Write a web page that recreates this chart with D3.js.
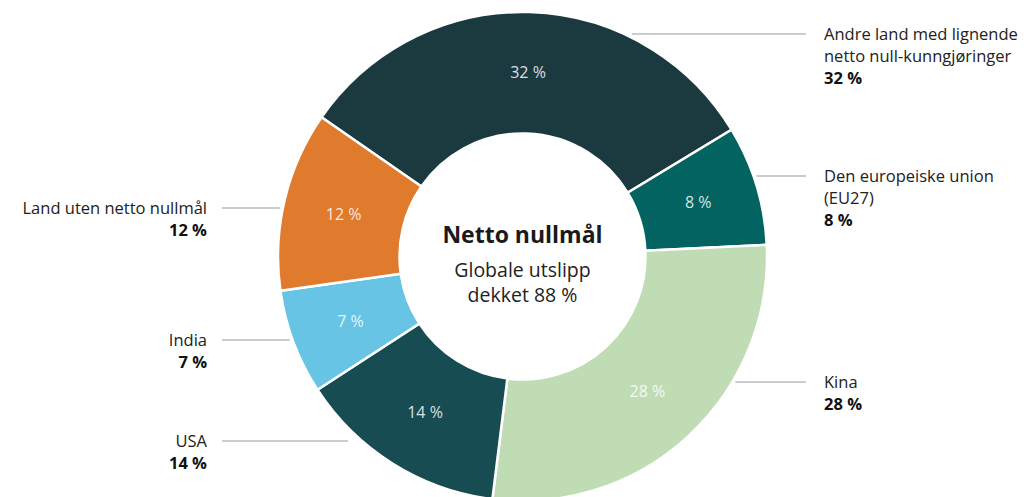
<!DOCTYPE html>
<html>
<head>
<meta charset="utf-8">
<script src="https://cdn.jsdelivr.net/npm/d3@7"></script>
<style>
  body { margin: 0; background: #fff; }
  svg text { font-family: "Open Sans", "Noto Sans", sans-serif; }
</style>
</head>
<body>
<div id="chart"></div>
<script>
const width = 1024, height = 497;
const cx = 522.5, cy = 256.5, outerR = 244.5, innerR = 123;

// data
const names = [
    ["Andre land med lignende", "netto null-kunngjøringer"],
    ["Den europeiske union", "(EU27)"],
    ["Kina"],
    ["USA"],
    ["India"],
    ["Land uten netto nullmål"]
];
const shares = [32, 8, 28, 14, 7, 12];
const colors = ["#1b3a40", "#036360", "#bfdcb5", "#174d52", "#68c4e5", "#e07a2d"];
const centerTitle = "Netto nullmål";
const centerLines = ["Globale utslipp", "dekket 88 %"];

// label layout: side, y of leader line, gap to the ring
const labelSide = ["right", "right", "right", "left", "left", "left"];
const labelLineY = [34, 176, 382, 441, 340, 208];
const labelGap = [8, 3, 3, 14, 3, 3];

const svg = d3.select("#chart")
    .append("svg")
    .attr("width", width)
    .attr("height", height);

const g = svg.append("g")
    .attr("transform", "translate(" + cx + "," + cy + ")");

const startAngle = -55.3 * Math.PI / 180;
const pie = d3.pie()
    .sort(null)
    .value(d => d)
    .startAngle(startAngle)
    .endAngle(startAngle + 2 * Math.PI);

const arc = d3.arc()
    .innerRadius(innerR)
    .outerRadius(outerR);

const arcs = pie(shares);

g.selectAll("path.slice")
    .data(arcs)
    .enter().append("path")
    .attr("class", "slice")
    .attr("d", arc)
    .attr("fill", (d, i) => colors[i])
    .attr("stroke", "#fff")
    .attr("stroke-width", 2.5);

g.selectAll("text.inside")
    .data(arcs)
    .enter().append("text")
    .attr("class", "inside")
    .attr("transform", d => "translate(" + arc.centroid(d) + ")")
    .attr("text-anchor", "middle")
    .attr("dy", "0.35em")
    .attr("font-size", 16)
    .attr("fill", "#fff")
    .attr("fill-opacity", 0.85)
    .text(d => d.value + " %");

// center text
g.append("text")
    .attr("text-anchor", "middle")
    .attr("y", -14)
    .attr("font-size", 23)
    .attr("font-weight", "bold")
    .attr("fill", "#1a1a1a")
    .text(centerTitle);

g.selectAll("text.center")
    .data(centerLines)
    .enter().append("text")
    .attr("class", "center")
    .attr("text-anchor", "middle")
    .attr("y", (d, i) => 20 + i * 25)
    .attr("font-size", 19.5)
    .attr("fill", "#222")
    .text(d => d);

// leader lines and outer labels
const rightLineEnd = 806, rightTextX = 824;
const leftLineStart = 222, leftTextX = 207;
const lineH = 22;

names.forEach((lines, i) => {
    const y = labelLineY[i];
    const dy = y - cy;
    const dx = Math.sqrt(Math.max(0, outerR * outerR - dy * dy));
    const right = labelSide[i] === "right";
    const ringX = right ? cx + dx + labelGap[i] : cx - dx - labelGap[i];

    svg.append("line")
        .attr("x1", right ? ringX : leftLineStart)
        .attr("x2", right ? rightLineEnd : ringX)
        .attr("y1", y)
        .attr("y2", y)
        .attr("stroke", "#999")
        .attr("stroke-width", 1.2);

    const t = svg.append("text")
        .attr("x", right ? rightTextX : leftTextX)
        .attr("text-anchor", right ? "start" : "end")
        .attr("font-size", 16.5)
        .attr("fill", "#222");

    lines.forEach((s, k) => {
        t.append("tspan")
            .attr("x", right ? rightTextX : leftTextX)
            .attr("y", y + 5.5 + k * lineH)
            .text(s);
    });
    t.append("tspan")
        .attr("x", right ? rightTextX : leftTextX)
        .attr("y", y + 5.5 + lines.length * lineH)
        .attr("font-weight", "bold")
        .attr("fill", "#111")
        .text(shares[i] + " %");
});
</script>
</body>
</html>
